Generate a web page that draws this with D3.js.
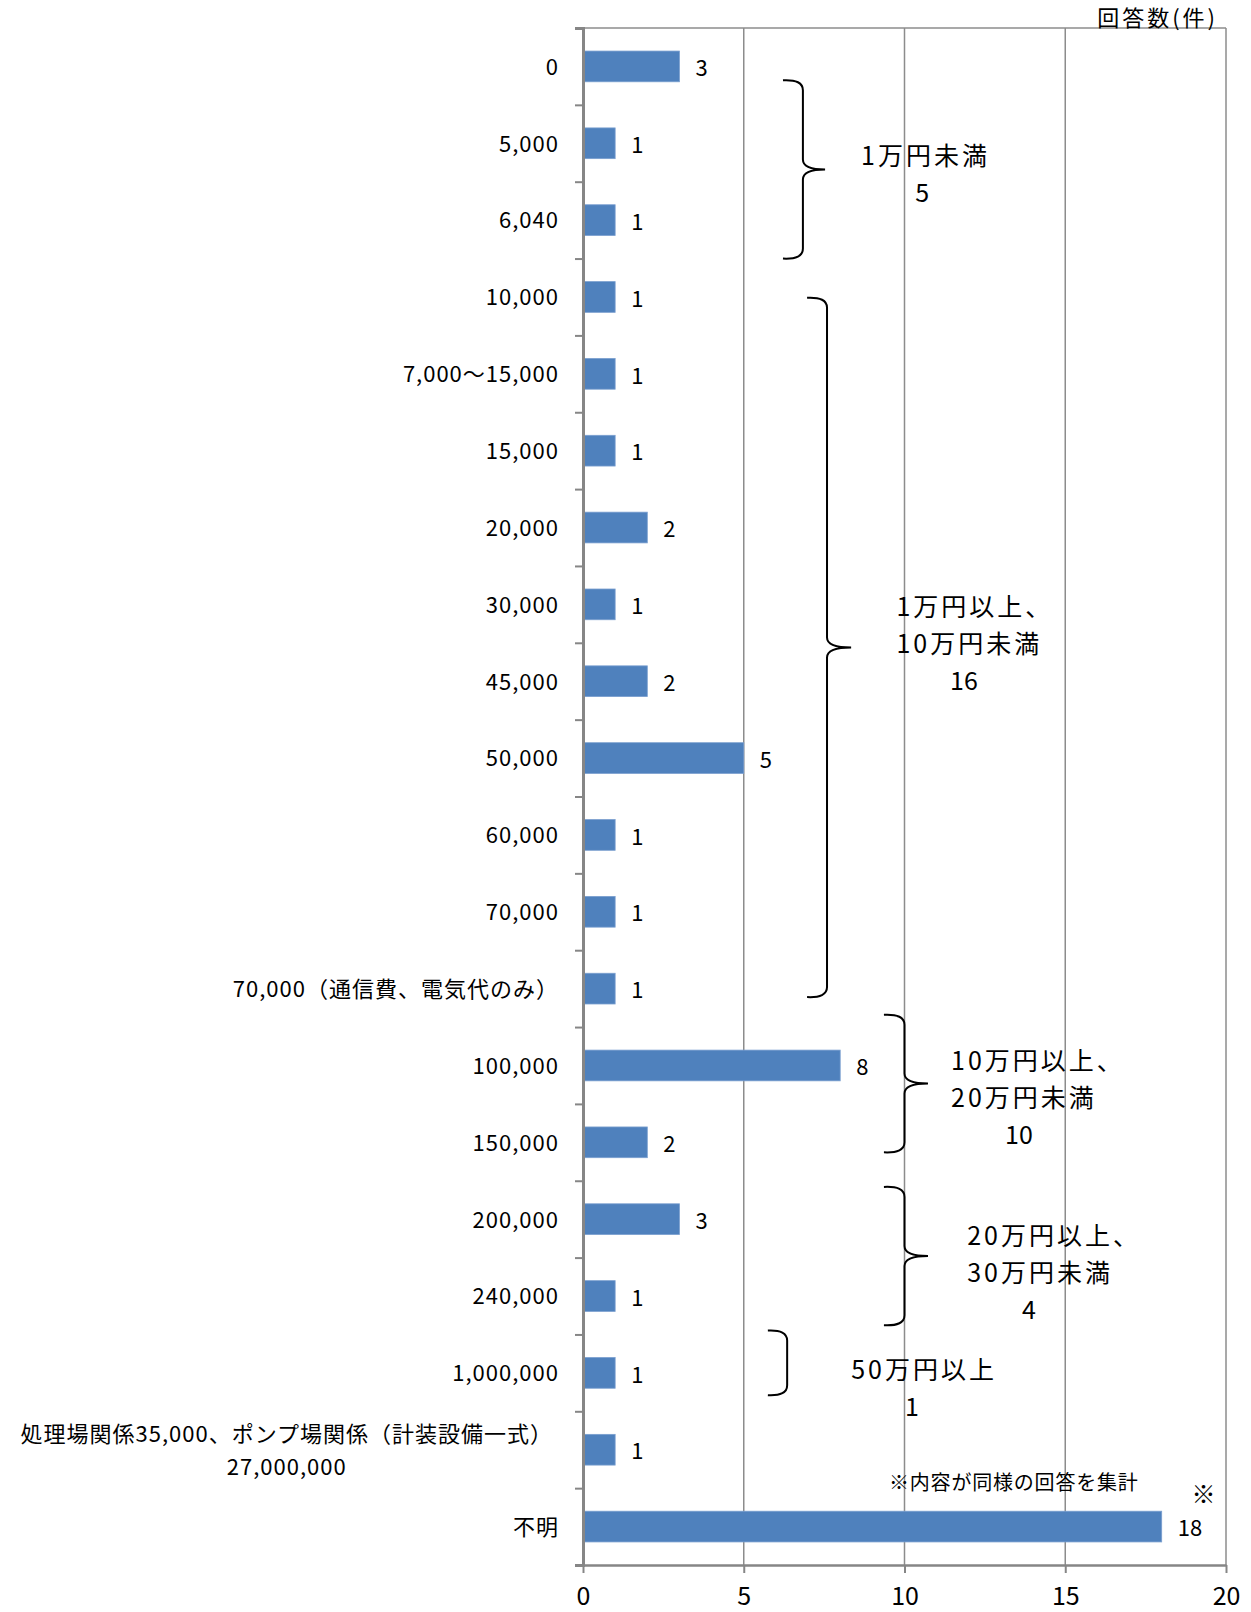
<!DOCTYPE html>
<html>
  <head>
    <meta charset="utf-8">
    <title>回答数（件）</title>
    <script src="https://d3js.org/d3.v7.min.js"></script>
    <style>
      body { margin: 0; background: #fff; }
      svg { font-family: "Noto Sans CJK JP", "Noto Sans", sans-serif; fill: #000; }
      .axis path, .axis line { stroke: #868686; }
      .grid line { stroke: #8c8c8c; stroke-width: 1.5; }
      .brace { fill: none; stroke: #000; stroke-width: 2; }
    </style>
  </head>
  <body>
    <div id="chart"></div>
    <script>
      // categories, top to bottom
      var categories = [
        "0", "5,000", "6,040", "10,000", "7,000～15,000", "15,000", "20,000",
        "30,000", "45,000", "50,000", "60,000", "70,000",
        "70,000（通信費、電気代のみ）", "100,000", "150,000", "200,000", "240,000",
        "1,000,000", "処理場関係35,000、ポンプ場関係（計装設備一式）\n27,000,000", "不明"
      ];
      var counts = [3, 1, 1, 1, 1, 1, 2, 1, 2, 5, 1, 1, 1, 8, 2, 3, 1, 1, 1, 18];
      var xTicks = [0, 5, 10, 15, 20];

      // groups of answers (first and last category index)
      var groupNames = [
        ["1万円未満"],
        ["1万円以上、", "10万円未満"],
        ["10万円以上、", "20万円未満"],
        ["20万円以上、", "30万円未満"],
        ["50万円以上"]
      ];
      var groupMembers = [[0, 2], [3, 12], [13, 14], [15, 16], [17, 17]];

      var width = 1251,
        height = 1612;

      var svg = d3.select("#chart").append("svg")
        .attr("width", width)
        .attr("height", height);

      var x = d3.scaleLinear().domain([0, 20]).range([583, 1226]);
      var y = d3.scaleBand().domain(categories).range([28, 1565])
        .paddingInner(0.6).paddingOuter(0.3);
      // continuous position along the category axis (slot units)
      var slot = d3.scaleLinear().domain([0, categories.length]).range([28, 1565]);

      // plot frame + grid
      svg.append("g").attr("class", "grid")
        .selectAll("line")
        .data(xTicks.slice(1))
        .join("line")
        .attr("x1", d => x(d)).attr("x2", d => x(d))
        .attr("y1", slot(0)).attr("y2", slot(categories.length));
      svg.append("line")
        .attr("x1", x(0)).attr("x2", x(20))
        .attr("y1", slot(0)).attr("y2", slot(0))
        .attr("stroke", "#8c8c8c").attr("stroke-width", 1.5);

      // bars
      svg.append("g")
        .selectAll("rect")
        .data(counts)
        .join("rect")
        .attr("x", x(0) + 1)
        .attr("y", (d, i) => y(categories[i]))
        .attr("width", d => x(d) - x(0) - 1)
        .attr("height", y.bandwidth())
        .attr("fill", "#4f81bd")
        .attr("stroke", "#7a9fcf")
        .attr("stroke-width", 0.8);

      // value labels
      svg.append("g")
        .selectAll("text")
        .data(counts)
        .join("text")
        .attr("x", d => x(d) + 16)
        .attr("y", (d, i) => y(categories[i]) + y.bandwidth() / 2)
        .attr("dy", "0.44em")
        .attr("font-size", 22)
        .text(d => d);

      // left axis: tick marks between categories
      var left = svg.append("g").attr("class", "axis")
        .attr("transform", "translate(" + x(0) + ",0)")
        .call(d3.axisLeft(slot).tickValues(d3.range(1, categories.length)).tickSize(8).tickFormat(""));
      left.select(".domain").attr("stroke-width", 3);
      left.selectAll(".tick line").attr("stroke-width", 2);

      // category labels
      var catLabels = svg.append("g")
        .selectAll("text")
        .data(categories)
        .join("text")
        .attr("font-size", 22)
        .attr("letter-spacing", 1)
        .attr("text-anchor", "end")
        .attr("x", x(0) - 24)
        .attr("y", d => y(d) + y.bandwidth() / 2);
      catLabels.each(function (d) {
        var lines = d.split("\n");
        var t = d3.select(this);
        lines.forEach(function (ln, k) {
          t.append("tspan")
            .attr("x", x(0) - 24)
            .attr("dy", k === 0 ? (0.38 - (lines.length - 1) * 0.75) + "em" : "1.5em")
            .text(ln);
        });
        if (lines.length > 1) {
          // center multi-line labels on their widest line
          var w = d3.max(t.selectAll("tspan").nodes(), n => n.getComputedTextLength());
          t.attr("text-anchor", "middle");
          t.selectAll("tspan").attr("x", x(0) - 30 - w / 2);
        }
      });

      // bottom axis
      var bottom = svg.append("g").attr("class", "axis")
        .attr("transform", "translate(0," + slot(categories.length) + ")")
        .call(d3.axisBottom(x).tickValues(xTicks).tickSize(8).tickPadding(14).tickSizeOuter(0));
      bottom.select(".domain").attr("stroke-width", 2.5);
      bottom.selectAll(".tick line").attr("stroke-width", 2);
      bottom.selectAll(".tick text")
        .attr("font-family", "'Noto Sans CJK JP', sans-serif")
        .attr("font-size", 25).attr("fill", "#000");

      // axis title
      svg.append("text")
        .attr("x", 1218).attr("y", 26)
        .attr("text-anchor", "end")
        .attr("font-size", 22)
        .attr("letter-spacing", 3)
        .text("回答数(件)");

      // group braces: span in slot units, tip/spine/point in value units
      var braceLayout = [
        { top: 0.68, bottom: 3.0, tip: 6.22, spine: 6.84, point: 7.53 },
        { top: 3.51, bottom: 12.61, tip: 6.97, spine: 7.59, point: 8.34 },
        { top: 12.84, bottom: 14.63, tip: 9.36, spine: 10.0, point: 10.73 },
        { top: 15.08, bottom: 16.88, tip: 9.36, spine: 10.0, point: 10.73 },
        { top: 16.95, bottom: 17.79, tip: 5.75, spine: 6.35, point: null }
      ];
      // label block: left edge and count centre in value units, first line in slot units
      var labelLayout = [
        { left: 8.65, countX: 10.55, cy: 1.66 },
        { left: 9.75, countX: 11.85, cy: 7.53 },
        { left: 11.45, countX: 13.56, cy: 13.43 },
        { left: 11.95, countX: 13.87, cy: 15.71 },
        { left: 8.34, countX: 10.23, cy: 17.45 }
      ];

      var braces = svg.append("g");
      braceLayout.forEach(function (b) {
        var y0 = slot(b.top), y1 = slot(b.bottom), ym = (y0 + y1) / 2;
        var xt = x(b.tip), xs = x(b.spine), r = 10;
        var p = d3.path();
        p.moveTo(xt, y0);
        p.quadraticCurveTo(xs, y0 - 1, xs, y0 + r);
        if (b.point !== null) {
          var xp = x(b.point);
          p.lineTo(xs, ym - r);
          p.quadraticCurveTo(xs, ym, xp, ym);
          p.quadraticCurveTo(xs, ym, xs, ym + r);
        }
        p.lineTo(xs, y1 - r);
        p.quadraticCurveTo(xs, y1 + 1, xt, y1);
        braces.append("path").attr("class", "brace").attr("d", p.toString());
      });

      var groupText = svg.append("g");
      groupNames.forEach(function (lines, g) {
        var m = groupMembers[g];
        var total = d3.sum(counts.slice(m[0], m[1] + 1));
        var lay = labelLayout[g];
        var t = groupText.append("text")
          .attr("font-size", 25)
          .attr("letter-spacing", 3);
        lines.forEach(function (ln, k) {
          t.append("tspan")
            .attr("x", x(lay.left))
            .attr("y", slot(lay.cy) + k * 37)
            .attr("dy", "0.38em")
            .text(ln);
        });
        groupText.append("text")
          .attr("font-size", 25)
          .attr("text-anchor", "middle")
          .attr("x", x(lay.countX))
          .attr("y", slot(lay.cy) + lines.length * 37)
          .attr("dy", "0.38em")
          .text(total);
      });

      // footnote
      svg.append("text")
        .attr("x", x(13.4)).attr("y", slot(18.93))
        .attr("dy", "0.35em")
        .attr("text-anchor", "middle")
        .attr("font-size", 20)
        .attr("letter-spacing", 0.8)
        .text("※内容が同様の回答を集計");
      svg.append("text")
        .attr("x", x(19.3)).attr("y", slot(19.09))
        .attr("dy", "0.35em")
        .attr("text-anchor", "middle")
        .attr("font-size", 24)
        .text("※");
    </script>
  </body>
</html>
